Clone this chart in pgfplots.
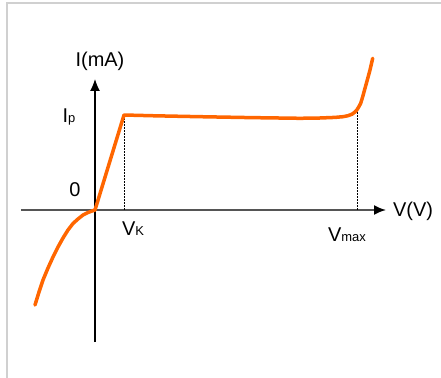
\documentclass[border=0pt]{standalone}
\usepackage{pgfplots}
\pgfplotsset{compat=1.18}
\usetikzlibrary{arrows.meta}
\usepackage{fontspec}
\setmainfont{Liberation Sans}
\definecolor{curve}{RGB}{255,102,0}
\definecolor{framec}{RGB}{208,208,208}
\definecolor{xax}{RGB}{85,85,85}
\newcommand{\bigf}{\fontsize{20}{22}\selectfont}
\newcommand{\smf}{\fontsize{13}{15}\selectfont}
\begin{document}
\begin{tikzpicture}
\begin{axis}[
  at={(0,0)}, anchor=origin,
  x=1bp, y=1bp,
  xmin=-74, xmax=291, ymin=-132, ymax=131,
  enlargelimits=false,
  axis lines=middle,
  xtick=\empty, ytick=\empty,
  clip=false,
  x axis line style={draw=xax, line width=1.8bp, -{Latex[length=12bp,width=10bp,color=black]}},
  y axis line style={draw=black, line width=1.2bp, -{Latex[length=12bp,width=10bp]}},
]
\addplot[black, line width=0.8bp, dash pattern=on 1.5bp off 1.5bp] coordinates {(29,0) (29,95)};
\addplot[black, line width=0.8bp, dash pattern=on 1.5bp off 1.5bp] coordinates {(262,0) (262,98)};
\addplot[curve, line width=3.5bp, line join=round, line cap=round] coordinates {
(-60,-95) (-56,-82) (-52,-70) (-47,-58) (-42,-47) (-37,-37) (-32,-28) (-27,-20)
(-22,-13.5) (-17,-9) (-12,-5) (-7,-2.5) (-3,-1) (0,0)
(29,95) (60,94.2) (105,93.3) (155,92.4) (205,91.7) (225,92) (240,92.6) (248,93.3)
(253,94.3) (257,95.8) (260,98) (262,100.3) (264,103.5) (265.7,106.7) (267.7,113.3)
(270,121.7) (272.3,130) (275,140) (277.7,151.7)};
\node[anchor=center] at (axis cs:5,149) {\bigf I(mA)};
\node[anchor=base] at (axis cs:-26,88) {\bigf I\smf p};
\node[anchor=center] at (axis cs:-20,20) {\bigf 0};
\node[anchor=base] at (axis cs:38,-25) {\bigf V\smf K};
\node[anchor=base] at (axis cs:252,-31) {\bigf V\smf max};
\node[anchor=center] at (axis cs:318,-1) {\bigf V(V)};
\end{axis}
\pgfresetboundingbox
\path[use as bounding box] (-95bp,-168bp) rectangle (346bp,210bp);
\draw[framec, line width=1.5bp] (-88bp,-175bp) -- (-88bp,207bp) -- (355bp,207bp);
\end{tikzpicture}
\end{document}
